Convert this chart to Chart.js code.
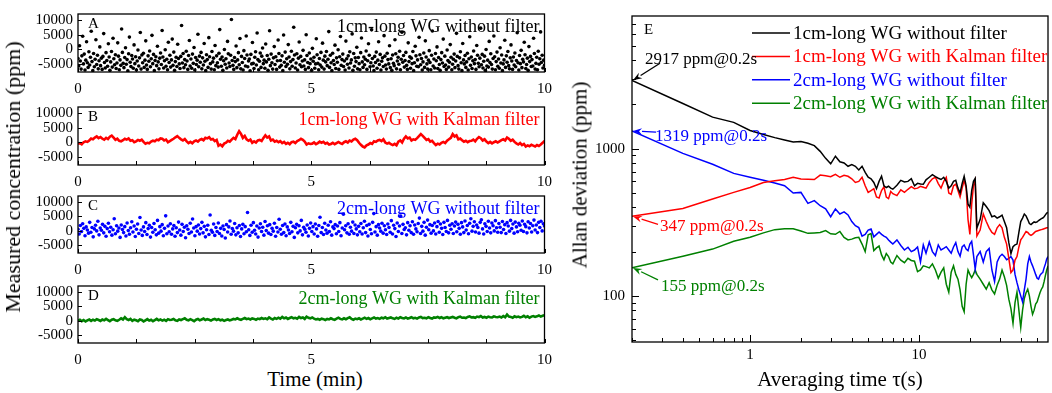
<!DOCTYPE html>
<html>
<head>
<meta charset="utf-8">
<script src="https://cdn.jsdelivr.net/npm/chart.js@4"></script>
<style>
  body { margin: 0; background: #fff; }
  #wrap { position: relative; width: 1052px; height: 393px; overflow: hidden; font-family: "Liberation Serif", serif; }
  canvas { position: absolute; }
  .ttl { position: absolute; white-space: nowrap; font-size: 21px; color: #000; line-height: 1; }
</style>
</head>
<body>
<div id="wrap">
  <canvas id="cA" width="560" height="95" style="left:0;top:0"></canvas>
  <canvas id="cB" width="560" height="95" style="left:0;top:93px"></canvas>
  <canvas id="cC" width="560" height="94" style="left:0;top:182px"></canvas>
  <canvas id="cD" width="560" height="94" style="left:0;top:272px"></canvas>
  <canvas id="cE" width="492" height="393" style="left:560px;top:0"></canvas>
  <div class="ttl" style="left:13px;top:177px;font-size:22px;transform:translate(-50%,-50%) rotate(-90deg)">Measured concentration (ppm)</div>
  <div class="ttl" style="left:315px;top:379px;transform:translate(-50%,-50%)">Time (min)</div>
  <div class="ttl" style="left:580px;top:175px;transform:translate(-50%,-50%) rotate(-90deg)">Allan deviation (ppm)</div>
  <div class="ttl" style="left:840px;top:379px;transform:translate(-50%,-50%)">Averaging time τ(s)</div>
</div>
<script>
// ---- time series panels (ppm), sampled evenly over 0..10 min ----
const T_END = 10;
const timeTicks = [0, 1.25, 2.5, 3.75, 5, 6.25, 7.5, 8.75, 10];
const timeLabels = [0, 5, 10];
const concTicks = [-5000, 0, 5000, 10000];

// A: 1cm-long WG without filter
const concA = [
  -3200,-5800,1200,-4100,-6900,-2300,4500,-5100,-1700,-7200,-3800,2600,-4700,-6300,-900,-5500,-2800,6200,-4300,-7400,
  -1500,-6100,-3500,3300,-5300,-2100,-6800,-4000,800,-5700,-3100,-7000,-2500,5400,-4600,-6500,-1200,-3900,-5900,1900,
  -2700,-7300,-4400,-800,-6200,3800,-3300,-5400,-1900,-6700,-4800,2200,-2400,-7100,-3700,-5600,7000,-1100,-4900,-6400,
  -2900,500,-5200,-3600,-7500,-1600,4200,-4500,-6000,-2200,-3400,-6600,1500,-5000,-2600,-7200,-4100,-300,-5800,-3000,
  5800,-6900,-2000,-4700,-1400,-6300,-3800,2900,-5500,-7000,-2300,-4200,-600,-6100,-3300,4800,-5000,-1800,-7400,-3900,
  -2600,-5700,1000,-4400,-6800,-3100,-1300,-5300,6500,-2700,-6500,-4000,-200,-5900,-3500,-7100,2400,-4600,-2100,-6200,
  -3700,3500,-5600,-1000,-7300,-4300,-2800,-6000,1700,-3200,-5100,-6700,-2500,8200,-4800,-1500,-6400,-3600,-5400,-700,
  -4100,-7000,-2200,3000,-5800,-3400,-6600,-1700,-4900,600,-7200,-2900,-5300,-3800,5200,-6100,-2400,-4500,-1100,-6800,
  -3000,-5500,2000,-4200,-7400,-1900,-3600,-6300,4000,-2600,-5000,-6900,-800,-4400,-3100,-7100,1300,-5700,-2300,-4700,
  -6200,-1400,6800,-3500,-5900,-2700,-7300,-4000,-100,-5200,-3300,-6500,2700,-1600,-4800,-6000,-2100,10300,-3900,-5600,
  -7000,-2900,-4300,1100,-6400,-3700,-1200,-5400,3700,-6800,-2500,-4600,-7200,-500,-3200,-5800,4600,-2000,-6100,-4100,
  -3400,-7500,-1800,-5100,2300,-4900,-6700,-2800,-900,-5500,5600,-3600,-7100,-4200,-1300,-6300,-2400,400,-5000,-3800,
  -6600,1800,-4400,-2200,-7300,-3500,6400,-5700,-1700,-4700,-6900,-3000,900,-5300,-2600,-7000,-4000,3200,-1500,-6200,
  -3900,-5600,-2300,-7400,4900,-4500,-1000,-6000,-3300,-5200,1600,-2700,-6800,-4300,-700,-5900,-3600,7600,-2000,-6500,
  -4800,-1600,-7200,-3100,2500,-5400,-2500,-6100,-4100,-400,-5800,-3700,-7000,5000,-2200,-4600,-6400,-1300,-5000,-3400,
  -7300,300,-4200,-2800,-6600,-5100,3600,-1900,-4900,-7100,-3200,-5500,-1100,-6200,2100,-3800,-6900,-2400,-4400,-800,
  -5700,-3500,6100,-6300,-2100,-4700,-7400,-1400,-3900,-5300,1400,-6700,-3000,-4500,-200,-7000,-2600,4400,-5600,-3600,
  -1700,-6000,-4100,-7200,2800,-3300,-5200,-2300,-6500,-900,-4800,-3700,5300,-7300,-1500,-5900,-3000,-4300,700,-6800,
  -2900,-5000,-7100,-1200,3900,-4400,-6300,-2700,-5400,-3500,-600,-7000,-4000,1900,-2100,-6100,-4700,6700,-3200,-5800,
  -7400,-2500,-4600,-1000,-6600,-3800,2600,-5300,-1800,-7200,-4200,-3000,-6000,4700,-2400,-5500,-6900,-1400,-3600,-5100,
  1200,-6400,-3300,-7300,-2000,-4900,-5700,3300,-1600,-6800,-4100,-2800,-5200,-700,-7100,-3500,5900,-4500,-2200,-6200,
  -3900,-1100,-5600,-7000,2200,-4300,-2600,-6600,-3100,-5000,-800,-7400,-4700,1000,-2300,-5900,-3700,-6100,4100,-1900,
  -5400,-3200,-7200,-4400,-1300,-6300,2900,-2700,-5100,-6900,-3800,-500,-4600,-7100,-2100,6300,-5800,-3400,-6500,-1500,
  -4000,800,-6700,-2900,-5300,-7300,-3600,-1200,-4800,3500,-6000,-2400,-5500,-7000,-300,-3900,-6200,-4500,1600,-2800,
  -7100,-5200,-3500,-1700,-6400,-4100,5500,-2500,-5700,-6900,-3000,-900,-4700,-7400,2000,-3700,-5100,-2200,-6300,-4400,
  -1400,-7200,-3300,4300,-5600,-2700,-6700,-4000,-600,-5000,-3600,-7000,1300,-2100,-4900,-6100,-3100,7300,-5400,-1800,
  -6500,-4200,-2400,-7300,-100,-5800,-3800,-6200,2700,-4600,-1600,-5300,-6900,-3200,4600,-2600,-7100,-4300,-1000,-5900,
  -3400,-6600,500,-4800,-2000,-7400,-5100,-3700,3100,-6300,-2300,-4500,-800,-5700,-6800,-3000,1500,-4100,-7000,-2700,
  -5500,-1300,-6100,-3900,5700,-4700,-7200,-2200,-5000,-400,-6400,-3500,-4400,2400,-1900,-6700,-5300,-3100,-7300,900,
  -4300,-2500,-6000,-3600,-5800,3800,-1500,-6900,-4900,-2800,-7100,-700,-5200,-3300,6000,-4600,-2100,-6500,-3800,-5600
];

// B: 1cm-long WG with Kalman filter
const concB = [
  -500,-300,-700,0,300,100,600,1300,1000,1600,2000,1400,1800,1200,900,1500,1100,1900,2300,1600,800,1200,500,300,700,
  1200,900,1300,500,700,0,300,800,500,900,100,-500,-200,-400,200,500,300,900,700,1300,1200,600,900,0,400,
  800,1200,1700,2100,1500,1000,600,1100,300,-300,100,-400,300,600,200,800,1100,700,1500,1300,1700,900,1100,400,800,
  -1200,-800,-1400,-500,-200,500,200,900,1500,1100,2600,3800,2900,1500,2200,1000,500,900,-200,300,-100,600,800,400,1500,
  2400,1600,2000,600,900,200,500,0,400,-300,100,-600,-200,-700,0,200,-300,400,700,1200,800,200,-800,-400,-600,
  -500,-100,-700,-300,200,-200,100,-500,-200,-800,-600,-200,-700,-300,100,-300,-600,0,300,-100,600,300,900,1200,700,
  -200,-900,-1500,-1800,-1100,-800,-300,-600,300,100,600,800,400,1000,-100,-500,-200,-700,-1000,-600,-1100,200,600,-100,1200,
  2000,1300,1600,600,1000,800,1400,2100,2800,2200,1500,800,1100,200,500,-300,-1000,-500,-800,-200,100,-300,500,1000,1500,
  2800,2000,2400,1000,1300,700,200,500,0,400,500,900,300,1200,1800,1400,600,1000,200,-300,100,-400,0,300,-100,
  300,700,1000,600,1600,1200,500,900,100,-400,-800,-300,-1000,-600,-1500,-1100,-1400,-900,-1200,-1500,-1000,-1300,-800,-200,500
];

// C: 2cm-long WG without filter
const concC = [
  500,-1200,1800,-300,2400,800,-1800,1300,200,-900,2900,-600,1100,-2200,600,1900,-100,3300,-1500,900,
  100,2200,-800,1500,-2000,700,2600,-400,1200,-1600,300,4200,-1100,1700,-200,900,-2400,2000,400,-700,
  1400,-1900,2700,0,-1300,1000,3100,-500,1600,-2100,500,2300,-1000,4600,200,-1700,1300,-300,2800,-1400,
  700,1900,-2300,1100,-600,2500,300,-1500,3600,-900,1400,-200,2100,-1800,800,5200,-1100,1600,-400,2400,
  -1300,600,1800,-2000,1000,-700,3000,200,-1600,2200,-300,1200,-2500,1700,500,-1000,2600,-500,4100,900,
  -1800,1400,-200,2000,-1200,700,2900,-800,1500,-2200,300,1900,-1400,5500,100,-600,2300,-1700,1100,-300,
  2700,-1000,800,-1900,1600,400,-2600,2100,-500,1300,3400,-1300,700,-200,2500,-1500,1000,-800,1800,-2100,
  600,2200,-1100,1400,-400,6400,300,-1700,1900,-600,2800,100,-1200,1600,-2300,900,2400,-300,1200,-1600,
  3200,0,1700,-900,2100,-1400,800,-200,2600,-2000,1100,-500,4000,500,-1300,1800,-700,2300,-1800,1300,
  200,-1000,2900,-400,1500,-2400,1000,2200,-800,1700,-100,3600,-1500,1200,500,-600,2000,-1900,800,2700,
  -300,1400,-1200,2300,600,-2000,1800,4700,-700,1100,-1400,2600,200,-900,1900,-300,3100,-1600,1300,700,
  2100,-1100,1600,-300,2800,-1800,900,5800,300,1700,-800,2400,-1300,1200,-200,3000,-1000,2000,600,-1500,
  1500,-400,2500,-1200,1000,3300,-700,1800,-1900,2200,400,-1100,2900,6000,-500,1400,-1600,2100,900,-200,
  2600,-900,1700,300,-1400,2300,1100,-600,3500,-1200,1900,700,-2100,2700,-300,1600,5100,-1000,2200,400,
  1000,-1500,2800,100,1700,-700,3100,-1300,2000,600,-400,2500,4400,-1000,1500,-200,2900,-1600,1200,3700,
  300,2100,-900,1800,-100,2700,-1200,1400,3200,-600,2300,800,-1400,2900,1100,-300,3600,-800,1900,500,
  2400,-1000,1600,3000,-400,2200,800,-1300,2800,1300,-700,3400,200,1800,-1100,2600,4200,-200,1500,3100,
  -500,2000,1100,-900,2900,3800,600,-1200,2400,1500,-300,3300,900,-800,2700,1700,-100,3500,1000,-600,
  2500,1200,-700,3200,400,2100,-1000,2800,1600,-200,3600,700,2300,-900,3000,1300,-400,2600,1900,100,
  3400,-300,2200,1400,-800,3100,900,2500,-500,1700,3700,200,2000,-700,2900,1100,3300,-100,2400,1600
];

// D: 2cm-long WG with Kalman filter
const concD = [
  0,300,-200,200,-300,100,400,-100,300,0,500,200,-100,400,100,600,200,-200,300,500,100,-100,300,800,400,
  1200,500,200,600,-100,300,100,-200,400,200,-300,100,500,0,300,-200,200,600,100,400,0,300,-100,500,200,
  300,600,100,-100,400,200,500,800,300,100,500,200,-200,300,600,100,400,700,200,500,300,0,400,600,200,
  500,100,300,-100,200,400,100,300,600,400,800,500,300,600,900,500,700,400,800,600,300,700,500,900,600,
  800,500,1100,700,400,900,600,1000,700,1300,800,1100,600,900,1200,800,1000,700,1300,900,1100,600,1400,1000,800,
  1100,700,400,600,300,700,500,200,600,400,800,500,300,700,1000,600,400,800,500,900,1200,600,300,700,500,
  800,400,700,1000,600,900,500,800,1100,700,900,600,1000,800,1200,700,900,1100,800,600,1000,700,1200,900,800,
  1100,700,900,1200,800,1000,700,1100,1300,900,1000,800,1200,900,700,1100,1000,1300,900,1200,800,1000,1200,900,1100,
  1300,1000,800,1200,1400,1000,1100,900,1300,1500,1100,1200,1000,1400,1200,1600,1100,1300,1000,1400,1200,1100,1500,1300,1200,
  1400,1100,1600,1200,2100,1400,1300,1000,1500,1200,1400,1100,1300,1700,1200,1500,1000,1400,1600,1300,1500,1800,1400,1700,1900
];

// ---- Allan deviation (ppm) vs averaging time (s) ----
const tauS = [
  0.2,0.4,0.6,0.8,
  1.0,1.2,1.4,1.6,1.8,2.0,2.2,2.4,2.6,2.8,3.0,3.2,3.4,3.6,3.8,4.0,4.2,4.4,4.6,4.8,5.0,5.2,5.4,5.6,5.8,6.0,6.2,6.4,6.6,6.8,7.0,
  7.4,7.8,8.2,8.6,9.0,9.4,9.8,10.2,10.6,
  11,11.5,12,12.5,13,13.5,14,14.5,15,15.5,16,16.5,17,17.5,18,18.5,19,19.5,20,20.5,21,21.5,22,
  23,24,25,26,27,28,29,30,31,32,33,34,35,36,37,38,39,40,41,42,43,44,45,46,47,48,49,50,51,52,53,54,55,56,57,58
];
const adev1cm = [
  2917,2030,1640,1510,
  1330,1250,1190,1145,1110,1120,1090,1050,960,860,790,890,815,800,760,780,760,718,760,690,640,625,590,535,600,650,560,545,556,540,531,
  565,610,595,600,625,560,582,575,573,
  615,640,666,646,630,618,640,600,540,560,600,610,540,500,580,650,560,420,400,520,600,628,290,
  330,430,405,380,345,350,338,345,354,320,291,230,194,216,222,225,270,320,338,360,350,330,310,305,312,318,315,318,325,330,335,338,345,355,365,370
];
const adev1cmKalman = [
  347,392,455,505,
  545,590,605,618,640,622,620,618,662,655,646,670,640,660,650,625,590,600,640,560,505,520,535,470,462,520,550,470,458,512,495,
  480,525,505,530,552,535,540,556,548,
  540,590,625,640,580,540,600,640,500,490,560,575,520,470,540,610,540,330,262,420,560,610,255,
  280,360,320,290,270,262,290,305,290,250,225,180,144,150,175,185,215,240,250,262,274,270,262,258,262,268,274,276,278,280,282,284,286,288,290,290
];
const adev2cm = [
  1319,930,785,680,
  640,610,585,560,500,505,425,444,410,390,345,390,360,372,355,320,300,291,255,262,280,285,252,262,272,262,255,250,240,232,225,
  240,220,205,214,200,205,215,170,222,
  195,232,200,188,222,205,210,216,205,195,215,230,200,186,215,222,208,203,225,235,190,152,185,
  200,170,200,210,150,125,170,185,192,185,176,180,185,175,140,123,110,100,91,110,130,165,185,170,160,150,140,132,130,138,142,144,155,165,178,185
];
const adev2cmKalman = [
  155,186,208,235,
  250,268,282,286,286,276,266,268,270,278,264,262,274,250,240,243,248,250,225,200,260,265,203,212,218,190,176,194,185,170,165,
  188,175,168,180,174,172,146,150,160,
  158,155,165,150,132,145,155,120,106,145,160,140,130,110,85,78,120,150,140,133,140,150,140,
  130,120,111,123,110,103,118,130,150,135,118,95,82,65,90,106,80,61,80,96,105,111,100,85,75,80,88,91,98,105,111,115,125,138,150,160
];
const tauTicks = [0.2,0.3,0.4,0.5,0.6,0.7,0.8,0.9,1,2,3,4,5,6,7,8,9,10,20,30,40,50];
const tauLabels = [1, 10];
const adevTicks = [50,60,70,80,90,100,200,300,400,500,600,700,800,900,1000,2000,3000,4000,5000,6000,7000];
const adevLabels = [100, 1000];

const seriesNames = ['1cm-long WG without filter', '1cm-long WG with Kalman filter',
                     '2cm-long WG without filter', '2cm-long WG with Kalman filter'];
const seriesColors = ['#000000', '#ff0000', '#0000ff', '#008000'];

const FONT = '"Liberation Serif", serif';
Chart.defaults.font.family = FONT;
Chart.defaults.color = '#000';

// box round the plot area
function framePlugin() {
  return {
    id: 'frame',
    afterDraw(chart) {
      const { ctx, chartArea: a } = chart;
      ctx.save();
      ctx.strokeStyle = '#000';
      ctx.lineWidth = 1.3;
      ctx.strokeRect(a.left, a.top, a.right - a.left, a.bottom - a.top);
      ctx.restore();
    }
  };
}

// tick marks pointing into the plot
function tickPlugin(xMajor, yMajor, majorLen, minorLen) {
  return {
    id: 'inTicks',
    afterDraw(chart) {
      const { ctx, chartArea: a, scales } = chart;
      ctx.save();
      ctx.strokeStyle = '#000';
      ctx.lineWidth = 1;
      scales.x.ticks.forEach(t => {
        const p = Math.round(scales.x.getPixelForValue(t.value)) + 0.5;
        const len = xMajor.includes(t.value) ? majorLen : minorLen;
        ctx.beginPath(); ctx.moveTo(p, a.bottom); ctx.lineTo(p, a.bottom - len); ctx.stroke();
      });
      scales.y.ticks.forEach(t => {
        const p = Math.round(scales.y.getPixelForValue(t.value)) + 0.5;
        const len = yMajor.includes(t.value) ? majorLen : minorLen;
        ctx.beginPath(); ctx.moveTo(a.left, p); ctx.lineTo(a.left + len, p); ctx.stroke();
      });
      ctx.restore();
    }
  };
}

function panelTextPlugin(letter, title, color) {
  return {
    id: 'panelText',
    afterDraw(chart) {
      const { ctx, chartArea: a } = chart;
      ctx.save();
      ctx.textBaseline = 'middle';
      ctx.font = '15px ' + FONT;
      ctx.fillStyle = '#000';
      ctx.textAlign = 'left';
      ctx.fillText(letter, a.left + 10, a.top + 10);
      ctx.font = '18px ' + FONT;
      ctx.fillStyle = color;
      ctx.textAlign = 'right';
      ctx.fillText(title, a.right - 5, a.top + 13);
      ctx.restore();
    }
  };
}

function timePanel(id, vals, color, asLine, letter, title) {
  const pts = vals.map((v, i) => ({ x: i * T_END / (vals.length - 1), y: v }));
  return new Chart(document.getElementById(id), {
    type: 'scatter',
    data: {
      datasets: [{
        data: pts,
        showLine: asLine,
        borderColor: color,
        backgroundColor: color,
        borderWidth: asLine ? 2.6 : 0,
        pointRadius: asLine ? 0 : 1.8,
        pointHoverRadius: 0
      }]
    },
    options: {
      responsive: false,
      animation: false,
      devicePixelRatio: 1,
      events: [],
      layout: { autoPadding: false, padding: { left: 0, right: 9, top: 5, bottom: 0 } },
      plugins: { legend: { display: false }, tooltip: { enabled: false } },
      scales: {
        x: {
          type: 'linear', min: 0, max: T_END,
          afterBuildTicks: s => { s.ticks = timeTicks.map(v => ({ value: v })); },
          afterFit: s => { s.height = 23; },
          grid: { display: false, drawTicks: false },
          border: { display: false },
          ticks: {
            padding: 8, autoSkip: false, maxRotation: 0, font: { size: 15 },
            callback: v => timeLabels.includes(v) ? String(v) : ''
          }
        },
        y: {
          min: -7900, max: 12200,
          afterBuildTicks: s => { s.ticks = concTicks.map(v => ({ value: v })); },
          afterFit: s => { s.width = 78; },
          grid: { display: false, drawTicks: false },
          border: { display: false },
          ticks: { padding: 5, autoSkip: false, font: { size: 15 }, callback: v => String(v) }
        }
      }
    },
    plugins: [framePlugin(), tickPlugin(timeLabels, concTicks, 4, 4), panelTextPlugin(letter, title, color)]
  });
}

timePanel('cA', concA, seriesColors[0], false, 'A', seriesNames[0]);
timePanel('cB', concB, seriesColors[1], true, 'B', seriesNames[1]);
timePanel('cC', concC, seriesColors[2], false, 'C', seriesNames[2]);
timePanel('cD', concD, seriesColors[3], true, 'D', seriesNames[3]);

// ---- panel E ----
const startNotes = [
  { val: adev1cm[0], text: '2917 ppm@0.2s', color: seriesColors[0], ax: 28, ay: -17, tx: 13, ty: -21 },
  { val: adev2cm[0], text: '1319 ppm@0.2s', color: seriesColors[2], ax: 24, ay: 1, tx: 23, ty: 5 },
  { val: adev1cmKalman[0], text: '347 ppm@0.2s', color: seriesColors[1], ax: 26, ay: 8, tx: 28, ty: 10 },
  { val: adev2cmKalman[0], text: '155 ppm@0.2s', color: seriesColors[3], ax: 26, ay: 12, tx: 29, ty: 19 }
];

function arrow(ctx, x0, y0, x1, y1, color) {
  const ang = Math.atan2(y1 - y0, x1 - x0);
  const L = 9, W = 3.2;
  const bx = x1 - L * Math.cos(ang), by = y1 - L * Math.sin(ang);
  ctx.strokeStyle = color; ctx.fillStyle = color; ctx.lineWidth = 1.3;
  ctx.beginPath(); ctx.moveTo(x0, y0); ctx.lineTo(bx, by); ctx.stroke();
  ctx.beginPath();
  ctx.moveTo(x1, y1);
  ctx.lineTo(bx - W * Math.sin(ang), by + W * Math.cos(ang));
  ctx.lineTo(bx + 3 * Math.cos(ang), by + 3 * Math.sin(ang));
  ctx.lineTo(bx + W * Math.sin(ang), by - W * Math.cos(ang));
  ctx.closePath(); ctx.fill();
}

const allanExtras = {
  id: 'allanExtras',
  afterDraw(chart) {
    const { ctx, chartArea: a, scales } = chart;
    ctx.save();
    ctx.textBaseline = 'middle';
    ctx.font = '15px ' + FONT;
    ctx.fillStyle = '#000';
    ctx.fillText('E', a.left + 12, a.top + 14);
    // legend
    ctx.font = '19px ' + FONT;
    seriesNames.forEach((name, i) => {
      const y = a.top + 17 + i * 23.4;
      ctx.strokeStyle = seriesColors[i];
      ctx.lineWidth = 1.5;
      ctx.beginPath(); ctx.moveTo(a.left + 120, y); ctx.lineTo(a.left + 158, y); ctx.stroke();
      ctx.fillStyle = seriesColors[i];
      ctx.fillText(name, a.left + 161, y + 1);
    });
    // start-point notes
    ctx.font = '17px ' + FONT;
    startNotes.forEach(n => {
      const px = scales.x.getPixelForValue(tauS[0]);
      const py = scales.y.getPixelForValue(n.val);
      arrow(ctx, px + n.ax, py + n.ay, px + 1, py, n.color);
      ctx.fillStyle = n.color;
      ctx.fillText(n.text, px + n.tx, py + n.ty);
    });
    ctx.restore();
  }
};

const allanSets = [adev1cm, adev1cmKalman, adev2cm, adev2cmKalman].map((arr, i) => ({
  label: seriesNames[i],
  data: arr.map((v, k) => ({ x: tauS[k], y: v })),
  showLine: true,
  borderColor: seriesColors[i],
  backgroundColor: seriesColors[i],
  borderWidth: 1.5,
  pointRadius: 0,
  pointHoverRadius: 0
}));

new Chart(document.getElementById('cE'), {
  type: 'scatter',
  data: { datasets: allanSets },
  options: {
    responsive: false,
    animation: false,
    devicePixelRatio: 1,
    events: [],
    layout: { autoPadding: false, padding: { left: 0, right: 4, top: 3, bottom: 0 } },
    plugins: { legend: { display: false }, tooltip: { enabled: false } },
    scales: {
      x: {
        type: 'logarithmic', min: 0.2, max: 58,
        afterBuildTicks: s => { s.ticks = tauTicks.map(v => ({ value: v })); },
        afterFit: s => { s.height = 51; },
        grid: { display: false, drawTicks: false },
        border: { display: false },
        ticks: {
          padding: 4, autoSkip: false, maxRotation: 0, font: { size: 15 },
          callback: v => tauLabels.includes(v) ? String(v) : ''
        }
      },
      y: {
        type: 'logarithmic', min: 48.6, max: 7980,
        afterBuildTicks: s => { s.ticks = adevTicks.map(v => ({ value: v })); },
        afterFit: s => { s.width = 72; },
        grid: { display: false, drawTicks: false },
        border: { display: false },
        ticks: {
          padding: 7, autoSkip: false, font: { size: 15 },
          callback: v => adevLabels.includes(v) ? String(v) : ''
        }
      }
    }
  },
  plugins: [framePlugin(), tickPlugin(tauLabels, adevLabels, 7, 4), allanExtras]
});
</script>
</body>
</html>
